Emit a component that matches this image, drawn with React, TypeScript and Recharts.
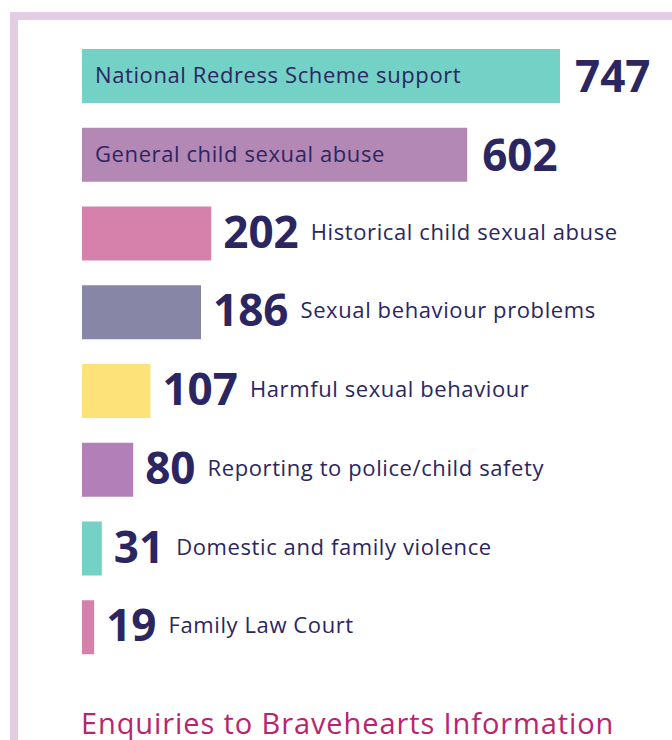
import React from "react";
import { BarChart, Bar, XAxis, YAxis, Cell, LabelList } from "recharts";

const categories = [
  "National Redress Scheme support",
  "General child sexual abuse",
  "Historical child sexual abuse",
  "Sexual behaviour problems",
  "Harmful sexual behaviour",
  "Reporting to police/child safety",
  "Domestic and family violence",
  "Family Law Court",
];
const values = [747, 602, 202, 186, 107, 80, 31, 19];
const colors = ["#74d1c6", "#b488b5", "#d581ab", "#8886a6", "#fde27a", "#b27fb8", "#74d1c6", "#d581ab"];
const title = "Enquiries to Bravehearts Information";

const data = categories.map((name, i) => ({ name, value: values[i], color: colors[i] }));

const NAVY = "#2b2661";
const FONT = "'Open Sans', sans-serif";

const renderLabel = (props: any) => {
  const { x, y, width, height, index } = props;
  const cy = y + height / 2;
  const end = x + width;
  const v = values[index];
  const name = categories[index];
  if (index < 2) {
    return (
      <g>
        <text x={x + 13} y={cy + 7} fontFamily={FONT} fontSize={22} letterSpacing={0.6} fill={NAVY}>
          {name}
        </text>
        <text x={end + 15} y={cy + 16} fontFamily={FONT} fontSize={44} fontWeight={700} fill={NAVY}>
          {v}
        </text>
      </g>
    );
  }
  return (
    <text x={end + 12} y={cy + 14} fontFamily={FONT} fill={NAVY}>
      <tspan fontSize={44} fontWeight={700}>{v}</tspan>
      <tspan dx={12} dy={-8} fontSize={22} letterSpacing={0.6}>{name}</tspan>
    </text>
  );
};

export default function App() {
  return (
    <div style={{ position: "absolute", left: 0, top: 0, width: 672, height: 740, overflow: "hidden", background: "#fff" }}>
      <div
        style={{
          position: "absolute",
          left: 10,
          top: 12,
          width: 700,
          height: 760,
          borderLeft: "8px solid #e2cde3",
          borderTop: "8px solid #e2cde3",
        }}
      />
      <div style={{ position: "absolute", left: 0, top: 0 }}>
        <BarChart
          width={672}
          height={740}
          layout="vertical"
          data={data}
          margin={{ top: 37, right: 112, bottom: 73, left: 82 }}
        >
          <XAxis type="number" hide domain={[0, 747]} />
          <YAxis type="category" dataKey="name" hide />
          <Bar dataKey="value" barSize={54} isAnimationActive={false}>
            {data.map((d, i) => (
              <Cell key={i} fill={d.color} />
            ))}
            <LabelList dataKey="value" content={renderLabel} />
          </Bar>
        </BarChart>
      </div>
      <div
        style={{
          position: "absolute",
          left: 81,
          top: 703,
          fontFamily: FONT,
          fontSize: 29,
          letterSpacing: 0.9,
          color: "#b8256f",
          whiteSpace: "nowrap",
          lineHeight: "40px",
        }}
      >
        {title}
      </div>
    </div>
  );
}
